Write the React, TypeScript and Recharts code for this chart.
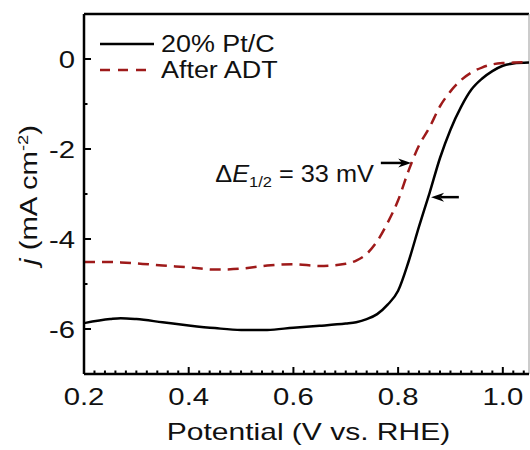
import { Label, Legend, Line, LineChart, ReferenceLine, XAxis, YAxis } from "recharts";

// potential (V vs. RHE)
const potential = [
  0.2, 0.25, 0.27, 0.3, 0.35, 0.4, 0.45, 0.5, 0.55, 0.6, 0.65, 0.7, 0.72, 0.74, 0.76,
  0.78, 0.8, 0.82, 0.84, 0.86, 0.88, 0.9, 0.92, 0.94, 0.96, 0.98, 1.0, 1.02, 1.05,
];
// 20% Pt/C (mA cm-2)
const ptC = [
  -5.87, -5.78, -5.76, -5.78, -5.85, -5.92, -5.98, -6.02, -6.02, -5.97, -5.93, -5.88, -5.85,
  -5.78, -5.67, -5.46, -5.15, -4.5, -3.72, -2.98, -2.2, -1.57, -1.07, -0.68, -0.44, -0.27,
  -0.15, -0.1, -0.08,
];
// after ADT
const afterAdt = [
  -4.51, -4.51, -4.52, -4.54, -4.59, -4.63, -4.68, -4.66, -4.59, -4.56, -4.6, -4.55, -4.48,
  -4.33, -4.05, -3.64, -3.14, -2.48, -1.92, -1.52, -1.05, -0.72, -0.47, -0.3, -0.19, -0.12,
  -0.09, -0.08, -0.07,
];

const xMajor = [0.2, 0.4, 0.6, 0.8, 1.0];
const xTicks = Array.from({ length: 43 }, (_, i) => Math.round((0.2 + i * 0.02) * 100) / 100);
const yTicks = [-6, -5, -4, -3, -2, -1, 0];

const FONT = '"Liberation Sans", Arial, Helvetica, sans-serif';
const RED = "#9e1a1a";
const STRETCH = 1.22;

const data = potential.map((x, i) => ({ x, ptc: ptC[i], adt: afterAdt[i] }));

function XTick(props: any) {
  const { x, y, payload } = props;
  const v = payload.value as number;
  const major = xMajor.some((m) => Math.abs(m - v) < 1e-6);
  return (
    <g>
      <line x1={x} y1={y} x2={x} y2={y - (major ? 7 : 3.5)} stroke="#000" strokeWidth={2} />
      {major && (
        <text
          transform={`translate(${x},${y + 31}) scale(${STRETCH},1)`}
          textAnchor="middle"
          fontSize={24}
          fontFamily={FONT}
          fill="#111"
        >
          {v.toFixed(1)}
        </text>
      )}
    </g>
  );
}

function YTick(props: any) {
  const { x, y, payload } = props;
  const v = payload.value as number;
  const major = v % 2 === 0;
  return (
    <g>
      <line x1={x} y1={y} x2={x + (major ? 7 : 3.5)} y2={y} stroke="#000" strokeWidth={2} />
      {major && (
        <text
          transform={`translate(${x - 9},${y + 8.6}) scale(${STRETCH},1)`}
          textAnchor="end"
          fontSize={24}
          fontFamily={FONT}
          fill="#111"
        >
          {String(v)}
        </text>
      )}
    </g>
  );
}

function Arrow(props: any) {
  const { x1, y1, x2, y2, withText } = props;
  const dir = Math.sign(x2 - x1) || 1;
  const head = 13;
  return (
    <g>
      <line x1={x1} y1={y1} x2={x2 - dir * head * 0.7} y2={y2} stroke="#000" strokeWidth={2.5} />
      <polygon
        points={`${x2},${y2} ${x2 - dir * head},${y2 - 4.5} ${x2 - dir * head * 0.7},${y2} ${x2 - dir * head},${y2 + 4.5}`}
        fill="#000"
      />
      {withText && (
        <text
          transform={`translate(${x1 - 7},${y1 + 18.7}) scale(1.1,1)`}
          textAnchor="end"
          fontSize={23}
          fontFamily={FONT}
          fill="#111"
        >
          Δ<tspan fontStyle="italic">E</tspan>
          <tspan fontSize={15} dy={5}>1/2</tspan>
          <tspan dy={-5}> = 33 mV</tspan>
        </text>
      )}
    </g>
  );
}

function renderLegend(props: any) {
  const items = props.payload ?? [];
  return (
    <div style={{ fontFamily: FONT, fontSize: 23, color: "#111" }}>
      {items.map((it: any) => (
        <div key={it.value} style={{ display: "flex", alignItems: "center", height: 26 }}>
          <svg width={54} height={6} style={{ display: "block" }}>
            <line
              x1={0}
              y1={3}
              x2={54}
              y2={3}
              stroke={it.color}
              strokeWidth={2.5}
              strokeDasharray={it.payload?.strokeDasharray ? "10 8" : undefined}
            />
          </svg>
          <span
            style={{
              marginLeft: 7,
              lineHeight: "26px",
              display: "inline-block",
              whiteSpace: "nowrap",
              transform: "scaleX(1.17)",
              transformOrigin: "left center",
            }}
          >
            {it.value}
          </span>
        </div>
      ))}
    </div>
  );
}

export default function App() {
  return (
    <div style={{ position: "absolute", left: 0, top: 0, background: "#fff" }}>
      <LineChart
        width={530}
        height={450}
        data={data}
        margin={{ top: 14, right: 1, left: 0, bottom: 0 }}
        style={{ fontFamily: FONT }}
      >
        <XAxis
          dataKey="x"
          type="number"
          domain={[0.2, 1.05]}
          allowDataOverflow
          ticks={xTicks}
          interval={0}
          tick={<XTick />}
          tickLine={false}
          tickSize={0}
          tickMargin={0}
          axisLine={{ stroke: "#000", strokeWidth: 2.5 }}
          height={76}
        >
          <Label
            content={(p: any) => {
              const vb = p.viewBox;
              return (
                <text
                  transform={`translate(${vb.x + vb.width / 2 + 2},${vb.y + 66}) scale(1.25,1)`}
                  textAnchor="middle"
                  fontSize={24}
                  fontFamily={FONT}
                  fill="#111"
                >
                  Potential (V vs. RHE)
                </text>
              );
            }}
          />
        </XAxis>
        <YAxis
          type="number"
          domain={[-7, 1]}
          allowDataOverflow
          ticks={yTicks}
          interval={0}
          tick={<YTick />}
          tickLine={false}
          tickSize={0}
          tickMargin={0}
          axisLine={{ stroke: "#000", strokeWidth: 2.5 }}
          width={84}
        >
          <Label
            content={(p: any) => {
              const vb = p.viewBox;
              return (
                <text
                  transform={`translate(${vb.x + 37},${vb.y + vb.height / 2 + 1}) rotate(-90) scale(${STRETCH},1)`}
                  textAnchor="middle"
                  fontSize={24}
                  fontFamily={FONT}
                  fill="#111"
                >
                  <tspan fontStyle="italic">j</tspan>
                  <tspan> (mA cm</tspan>
                  <tspan fontSize={15} dy={-9}>-2</tspan>
                  <tspan dy={9}>)</tspan>
                </text>
              );
            }}
          />
        </YAxis>
        <ReferenceLine y={1} stroke="#000" strokeWidth={2.5} />
        <ReferenceLine x={1.05} stroke="#999" strokeWidth={1} />
        <Legend
          content={renderLegend}
          layout="vertical"
          align="center"
          verticalAlign="middle"
          wrapperStyle={{ left: 100, top: 31, width: 200 }}
        />
        <Line
          type="monotone"
          dataKey="ptc"
          name="20% Pt/C"
          stroke="#000"
          strokeWidth={2.5}
          dot={false}
          activeDot={false}
          isAnimationActive={false}
        />
        <Line
          type="monotone"
          dataKey="adt"
          name="After ADT"
          stroke={RED}
          strokeWidth={2.5}
          strokeDasharray="11 7"
          dot={false}
          activeDot={false}
          isAnimationActive={false}
        />
        <ReferenceLine
          segment={[
            { x: 0.767, y: -2.31 },
            { x: 0.825, y: -2.31 },
          ]}
          shape={(p: any) => <Arrow {...p} withText />}
        />
        <ReferenceLine
          segment={[
            { x: 0.916, y: -3.07 },
            { x: 0.863, y: -3.07 },
          ]}
          shape={(p: any) => <Arrow {...p} />}
        />
      </LineChart>
    </div>
  );
}
